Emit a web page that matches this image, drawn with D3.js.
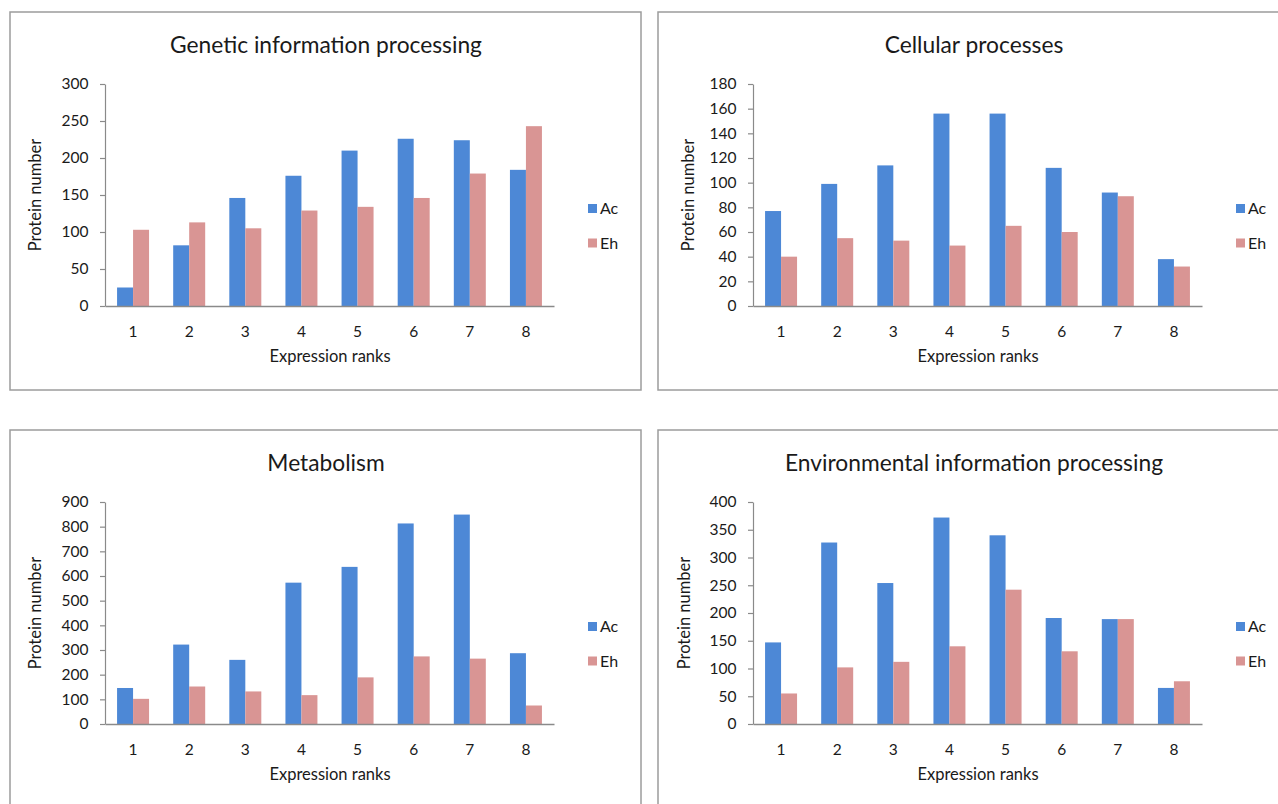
<!DOCTYPE html>
<html>
<head>
<meta charset="utf-8">
<script src="https://cdn.jsdelivr.net/npm/d3@7"></script>
<style>
  html, body { margin: 0; padding: 0; background: #fff; }
  svg { display: block; }
  text { font-family: Lato, "Open Sans", sans-serif; fill: #1a1a1a; }
</style>
</head>
<body>
<svg id="chart" width="1278" height="804"></svg>
<script>
// ---- data ----
const categories = ["1", "2", "3", "4", "5", "6", "7", "8"];
const seriesNames = ["Ac", "Eh"];
const panelTitles = ["Genetic information processing", "Cellular processes", "Metabolism", "Environmental information processing"];
const xAxisTitle = "Expression ranks";
const yAxisTitle = "Protein number";

const geneticAc = [25, 82, 146, 176, 210, 226, 224, 184];
const geneticEh = [103, 113, 105, 129, 134, 146, 179, 243];
const cellularAc = [77, 99, 114, 156, 156, 112, 92, 38];
const cellularEh = [40, 55, 53, 49, 65, 60, 89, 32];
const metabolismAc = [146, 322, 260, 573, 637, 813, 849, 287];
const metabolismEh = [102, 152, 132, 117, 189, 274, 265, 75];
const environmentalAc = [147, 327, 254, 372, 340, 191, 189, 65];
const environmentalEh = [55, 102, 112, 140, 242, 131, 189, 77];

const yMaxes = [300, 180, 900, 400];
const yTickSteps = [50, 20, 100, 50];

// ---- layout ----
const colors = { Ac: "#4d88d6", Eh: "#d99594" };
const panels = [
  { x: 10, y: 12, ac: geneticAc, eh: geneticEh, yTitleDx: 25 },
  { x: 658, y: 12, ac: cellularAc, eh: cellularEh, yTitleDx: 30 },
  { x: 10, y: 430, ac: metabolismAc, eh: metabolismEh, yTitleDx: 25 },
  { x: 658, y: 430, ac: environmentalAc, eh: environmentalEh, yTitleDx: 26 }
];
const boxW = 631, boxH = 378;
const plotL = 95, plotT = 72, plotW = 449, plotH = 222;
const font = "Lato, 'Open Sans', sans-serif";

const svg = d3.select("#chart");

// title font size fitted so the first title spans ~312px
const probe = svg.append("text").attr("font-size", 20).text(panelTitles[0]);
const titleSize = 20 * 312 / probe.node().getComputedTextLength();
probe.remove();

panels.forEach((p, i) => {
  const g = svg.append("g").attr("transform", `translate(${p.x},${p.y})`);

  g.append("rect")
    .attr("x", 0).attr("y", 0).attr("width", boxW).attr("height", boxH)
    .attr("fill", "#fff").attr("stroke", "#9c9c9c").attr("stroke-width", 1.5);

  g.append("text")
    .attr("x", 316).attr("y", 41)
    .attr("text-anchor", "middle")
    .attr("font-size", titleSize)
    .text(panelTitles[i]);

  const plot = g.append("g").attr("transform", `translate(${plotL},${plotT})`);

  const x0 = d3.scaleBand().domain(categories).range([0, plotW]).paddingInner(0.43).paddingOuter(0.215);
  const x1 = d3.scaleBand().domain(seriesNames).range([0, x0.bandwidth()]);
  const y = d3.scaleLinear().domain([0, yMaxes[i]]).range([plotH, 0]);

  const rows = categories.map((c, k) => ({ cat: c, Ac: p.ac[k], Eh: p.eh[k] }));

  plot.selectAll("g.cat").data(rows).join("g")
    .attr("class", "cat")
    .attr("transform", d => `translate(${x0(d.cat)},0)`)
    .selectAll("rect").data(d => seriesNames.map(s => ({ s, v: d[s] }))).join("rect")
      .attr("x", d => x1(d.s))
      .attr("width", x1.bandwidth())
      .attr("y", d => y(d.v))
      .attr("height", d => plotH - y(d.v))
      .attr("fill", d => colors[d.s]);

  const yAxis = d3.axisLeft(y)
    .tickValues(d3.range(0, yMaxes[i] + 1, yTickSteps[i]))
    .tickSizeInner(5).tickSizeOuter(0).tickPadding(11.5)
    .tickFormat(d3.format("d"));
  const ya = plot.append("g").call(yAxis);
  ya.selectAll("path, line").attr("stroke", "#8a8a8a").attr("stroke-width", 1.2);
  ya.selectAll("text").attr("font-size", 15.5).attr("fill", "#1a1a1a").style("font-family", font);

  const xAxis = d3.axisBottom(x0).tickSizeInner(0).tickSizeOuter(0).tickPadding(20);
  const xa = plot.append("g").attr("transform", `translate(0,${plotH})`).call(xAxis);
  xa.selectAll("path").attr("stroke", "#8a8a8a").attr("stroke-width", 1.5);
  xa.selectAll("text").attr("font-size", 15.5).attr("fill", "#1a1a1a").style("font-family", font);

  g.append("text")
    .attr("x", 320).attr("y", 350)
    .attr("text-anchor", "middle").attr("font-size", 16.5)
    .text(xAxisTitle);

  g.append("text")
    .attr("transform", `translate(${p.yTitleDx},${plotT + plotH / 2}) rotate(-90)`)
    .attr("text-anchor", "middle").attr("dy", "0.35em").attr("font-size", 16.5)
    .text(yAxisTitle);

  const leg = g.append("g").attr("transform", "translate(578,0)");
  seriesNames.forEach((s, k) => {
    const cy = 196.5 + k * 34.5;
    leg.append("rect").attr("x", 0).attr("y", cy - 4.5).attr("width", 9).attr("height", 9).attr("fill", colors[s]);
    leg.append("text").attr("x", 12).attr("y", cy).attr("dy", "0.36em").attr("font-size", 16).text(s);
  });
});
</script>
</body>
</html>
